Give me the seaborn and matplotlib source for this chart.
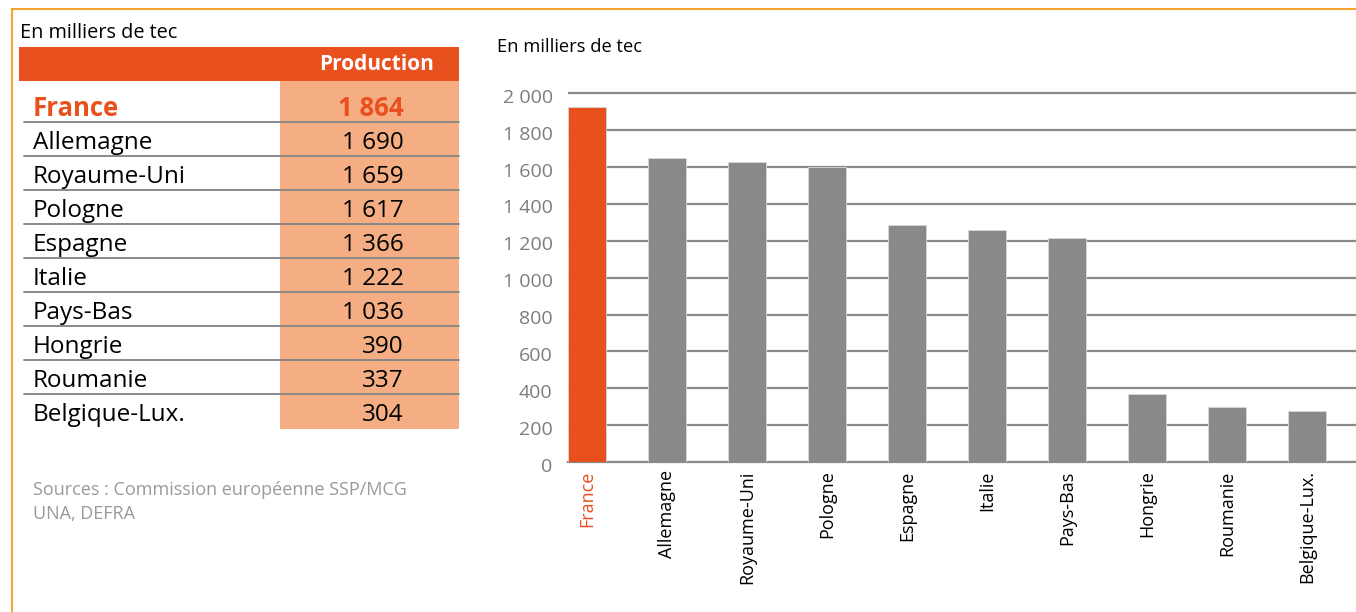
import matplotlib
matplotlib.use("Agg")
import matplotlib.pyplot as plt
import matplotlib.patches as mpatches
import matplotlib.transforms as mtransforms
from matplotlib.ticker import FuncFormatter
import seaborn as sns
import pandas as pd

# ---------------- data ----------------
table_countries = ["France", "Allemagne", "Royaume-Uni", "Pologne", "Espagne",
                   "Italie", "Pays-Bas", "Hongrie", "Roumanie", "Belgique-Lux."]
table_values = ["1 864", "1 690", "1 659", "1 617", "1 366",
                "1 222", "1 036", "390", "337", "304"]
bar_countries = ["France", "Allemagne", "Royaume-Uni", "Pologne", "Espagne",
                 "Italie", "Pays-Bas", "Hongrie", "Roumanie", "Belgique-Lux."]
bar_values = [1925, 1650, 1630, 1600, 1285, 1260, 1215, 370, 300, 275]
y_ticks = [0, 200, 400, 600, 800, 1000, 1200, 1400, 1600, 1800, 2000]
unit_label = "En milliers de tec"
header_label = "Production"
source_lines = ["Sources : Commission européenne SSP/MCG", "UNA, DEFRA"]

ORANGE = "#E8501E"
SALMON = "#F5AE84"
GREY_BAR = "#88898B"
GRID = "#8A8A8A"
BORDER = "#F2A531"
FONT = ["Open Sans", "DejaVu Sans"]

sns.set_theme(style="white")
plt.rcParams["font.family"] = FONT

W, H = 1356, 612
fig = plt.figure(figsize=(W / 100, H / 100), dpi=100)

def fx(px):
    return px / W

def fy(py):
    return 1 - py / H

# ---------------- bar chart ----------------
ax_left, ax_right, ax_top, ax_bottom = 568, 1356, 88, 462
ax = fig.add_axes([fx(ax_left), fy(ax_bottom), fx(ax_right - ax_left),
                   (ax_bottom - ax_top) / H])
df = pd.DataFrame({"pays": bar_countries, "valeur": bar_values})
palette = {c: (ORANGE if c == "France" else GREY_BAR) for c in bar_countries}
sns.barplot(data=df, x="pays", y="valeur", hue="pays", palette=palette,
            legend=False, width=0.475, ax=ax, saturation=1, zorder=3)
for p in ax.patches:
    p.set_edgecolor("#D8D8D8")
    p.set_linewidth(0.6)
top_val = 2000 * (ax_bottom - ax_top) / (ax_bottom - 93.3)
ax.set_ylim(0, top_val)
ax.set_xlim(-0.2375, 9.61)
ax.set_yticks(y_ticks)
ax.yaxis.set_major_formatter(FuncFormatter(lambda v, _: f"{int(v):,}".replace(",", " ")))
ax.yaxis.grid(True, color=GRID, linewidth=1.6, zorder=0)
ax.set_axisbelow(True)
for s in ["top", "right", "left"]:
    ax.spines[s].set_visible(False)
ax.spines["bottom"].set_color(GRID)
ax.spines["bottom"].set_linewidth(1.6)
ax.set_xlabel("")
ax.set_ylabel("")
ax.tick_params(axis="y", length=0, pad=11, labelsize=14, labelcolor="#7D7D7D")
ax.tick_params(axis="x", length=0, pad=6, labelsize=13, labelcolor="black",
               rotation=90)
shift = mtransforms.ScaledTranslation(0, -2.5 / 100, fig.dpi_scale_trans)
for lbl in ax.get_yticklabels():
    lbl.set_transform(lbl.get_transform() + shift)
for lbl in ax.get_xticklabels():
    lbl.set_verticalalignment("top")
    if lbl.get_text() == "France":
        lbl.set_color(ORANGE)

fig.text(fx(497), fy(47), unit_label, fontsize=13.2, color="black",
         ha="left", va="center")

# ---------------- table (overlay) ----------------
ov = fig.add_axes([0, 0, 1, 1], zorder=-1)
ov.set_xlim(0, W)
ov.set_ylim(H, 0)
ov.axis("off")

# border
ov.plot([12, W], [9, 9], color=BORDER, lw=1.5)
ov.plot([12, 12], [9, H], color=BORDER, lw=1.5)

ov.text(20, 33, unit_label, fontsize=14.3, color="black", ha="left", va="center")
ov.add_patch(mpatches.Rectangle((19, 47), 440, 34, color=ORANGE, lw=0))
ov.text(377, 65, header_label, fontsize=15, fontweight="bold", color="white",
        ha="center", va="center")
first_line = 121.7
row_h = 34.04
n = len(table_countries)
salmon_bottom = first_line + row_h * (n - 2) + 34.7
ov.add_patch(mpatches.Rectangle((280, 81), 179, salmon_bottom - 81,
                                color=SALMON, lw=0))
for i, (c, v) in enumerate(zip(table_countries, table_values)):
    if i == 0:
        yc = 105.5
    else:
        yc = first_line + row_h * (i - 0.5) + 1
    first = i == 0
    col = ORANGE if first else "black"
    wt = "bold" if first else "normal"
    fs = 18.5 if first else 17.5
    ov.text(33, yc, c, fontsize=fs, color=col, fontweight=wt, ha="left",
            va="center_baseline")
    ov.text(404, yc, v, fontsize=fs, color=col, fontweight=wt, ha="right",
            va="center_baseline")
    if i < n - 1:
        yl = first_line + row_h * i
        ov.plot([24, 459], [yl, yl], color="#8A8A8A", lw=1.4)

for j, s in enumerate(source_lines):
    ov.text(33, 490 + 24 * j, s, fontsize=13, color="#9A9A9A", ha="left",
            va="center")

fig.savefig("out.png", dpi=100)
